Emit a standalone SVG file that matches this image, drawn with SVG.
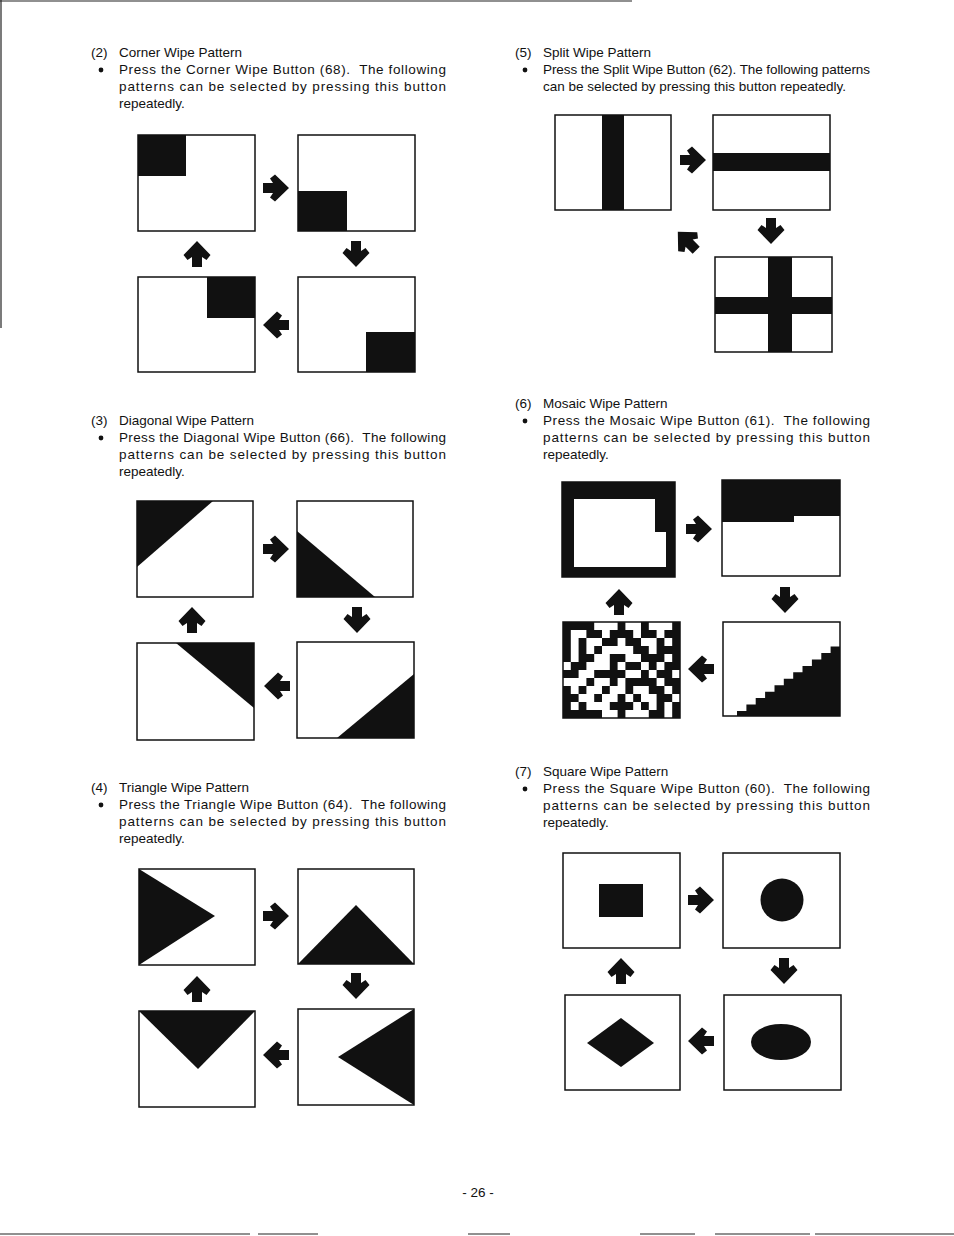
<svg xmlns="http://www.w3.org/2000/svg" width="954" height="1236" viewBox="0 0 954 1236">
<style>
.t{font-family:"Liberation Sans",Arial,Helvetica,sans-serif;font-size:13.5px;fill:#111;white-space:pre}
.fr{fill:none;stroke:#111;stroke-width:1.5}
.blk{fill:#111}
.wht{fill:#fff}
.edge{stroke:#222;stroke-width:1.2}
.bul{fill:#111}
</style>
<defs>
<path id="arr" d="M-13,-5 H-3 L-6,-9.5 L-1,-13.5 L13,0 L-1,13.5 L-6,9.5 L-3,5 H-13 Z" fill="#111"/>
</defs>
<rect width="954" height="1236" fill="#fff"/>
<g id="scan-edges">
<line class="edge" x1="0" y1="1" x2="632" y2="1"/>
<line class="edge" x1="1" y1="0" x2="1" y2="328"/>
<line class="edge" x1="0" y1="1234" x2="250" y2="1234"/>
<line class="edge" x1="258" y1="1234" x2="318" y2="1234"/>
<line class="edge" x1="468" y1="1234" x2="510" y2="1234"/>
<line class="edge" x1="640" y1="1234" x2="695" y2="1234"/>
<line class="edge" x1="715" y1="1234" x2="810" y2="1234"/>
<line class="edge" x1="815" y1="1234" x2="954" y2="1234"/>
</g>

<g id="text-corner">
<text class="t" x="91" y="57">(2)</text>
<text class="t" x="119" y="57">Corner Wipe Pattern</text>
<circle class="bul" cx="101" cy="70" r="2.4"/>
<text class="t" x="119" y="74" textLength="327" lengthAdjust="spacing">Press the Corner Wipe Button (68).&#160; The following</text>
<text class="t" x="119" y="91" textLength="327" lengthAdjust="spacing">patterns can be selected by pressing this button</text>
<text class="t" x="119" y="108">repeatedly.</text>
</g>
<g id="text-diagonal">
<text class="t" x="91" y="425">(3)</text>
<text class="t" x="119" y="425">Diagonal Wipe Pattern</text>
<circle class="bul" cx="101" cy="438" r="2.4"/>
<text class="t" x="119" y="442" textLength="327" lengthAdjust="spacing">Press the Diagonal Wipe Button (66).&#160; The following</text>
<text class="t" x="119" y="459" textLength="327" lengthAdjust="spacing">patterns can be selected by pressing this button</text>
<text class="t" x="119" y="476">repeatedly.</text>
</g>
<g id="text-triangle">
<text class="t" x="91" y="792">(4)</text>
<text class="t" x="119" y="792">Triangle Wipe Pattern</text>
<circle class="bul" cx="101" cy="805" r="2.4"/>
<text class="t" x="119" y="809" textLength="327" lengthAdjust="spacing">Press the Triangle Wipe Button (64).&#160; The following</text>
<text class="t" x="119" y="826" textLength="327" lengthAdjust="spacing">patterns can be selected by pressing this button</text>
<text class="t" x="119" y="843">repeatedly.</text>
</g>
<g id="text-split">
<text class="t" x="515" y="57">(5)</text>
<text class="t" x="543" y="57">Split Wipe Pattern</text>
<circle class="bul" cx="525" cy="70" r="2.4"/>
<text class="t" x="543" y="74" textLength="327" lengthAdjust="spacing">Press the Split Wipe Button (62). The following patterns</text>
<text class="t" x="543" y="91">can be selected by pressing this button repeatedly.</text>
</g>
<g id="text-mosaic">
<text class="t" x="515" y="408">(6)</text>
<text class="t" x="543" y="408">Mosaic Wipe Pattern</text>
<circle class="bul" cx="525" cy="421" r="2.4"/>
<text class="t" x="543" y="425" textLength="327" lengthAdjust="spacing">Press the Mosaic Wipe Button (61).&#160; The following</text>
<text class="t" x="543" y="442" textLength="327" lengthAdjust="spacing">patterns can be selected by pressing this button</text>
<text class="t" x="543" y="459">repeatedly.</text>
</g>
<g id="text-square">
<text class="t" x="515" y="776">(7)</text>
<text class="t" x="543" y="776">Square Wipe Pattern</text>
<circle class="bul" cx="525" cy="789" r="2.4"/>
<text class="t" x="543" y="793" textLength="327" lengthAdjust="spacing">Press the Square Wipe Button (60).&#160; The following</text>
<text class="t" x="543" y="810" textLength="327" lengthAdjust="spacing">patterns can be selected by pressing this button</text>
<text class="t" x="543" y="827">repeatedly.</text>
</g>
<g id="page-number">
<text class="t" x="478" y="1197" text-anchor="middle">- 26 -</text>
</g>

<!-- Corner -->
<g id="corner-1"><rect class="blk" x="138" y="135" width="48" height="41"/><rect class="fr" x="138" y="135" width="117" height="96"/></g>
<g id="corner-2"><rect class="blk" x="298" y="191" width="49" height="40"/><rect class="fr" x="298" y="135" width="117" height="96"/></g>
<g id="corner-3"><rect class="blk" x="366" y="332" width="49" height="40"/><rect class="fr" x="298" y="277" width="117" height="95"/></g>
<g id="corner-4"><rect class="blk" x="207" y="277" width="48" height="41"/><rect class="fr" x="138" y="277" width="117" height="95"/></g>

<!-- Diagonal -->
<g id="diagonal-1"><polygon class="blk" points="137,501 213,501 137,567"/><rect class="fr" x="137" y="501" width="116" height="96"/></g>
<g id="diagonal-2"><polygon class="blk" points="297,531 297,597 375,597"/><rect class="fr" x="297" y="501" width="116" height="96"/></g>
<g id="diagonal-3"><polygon class="blk" points="337,738 414,738 414,674"/><rect class="fr" x="297" y="642" width="117" height="96"/></g>
<g id="diagonal-4"><polygon class="blk" points="176,643 254,643 254,708"/><rect class="fr" x="137" y="643" width="117" height="97"/></g>

<!-- Triangle -->
<g id="triangle-1"><polygon class="blk" points="139,869 139,965 215,916"/><rect class="fr" x="139" y="869" width="116" height="96"/></g>
<g id="triangle-2"><polygon class="blk" points="298,964 414,964 356,905"/><rect class="fr" x="298" y="869" width="116" height="95"/></g>
<g id="triangle-3"><polygon class="blk" points="414,1009 414,1105 338,1057"/><rect class="fr" x="298" y="1009" width="116" height="96"/></g>
<g id="triangle-4"><polygon class="blk" points="139,1011 255,1011 198,1069"/><rect class="fr" x="139" y="1011" width="116" height="96"/></g>

<!-- Split -->
<g id="split-1"><rect class="blk" x="602" y="115" width="22" height="95"/><rect class="fr" x="555" y="115" width="116" height="95"/></g>
<g id="split-2"><rect class="blk" x="713" y="153" width="117" height="18"/><rect class="fr" x="713" y="115" width="117" height="95"/></g>
<g id="split-3"><rect class="blk" x="768" y="257" width="24" height="95"/><rect class="blk" x="715" y="297" width="117" height="17"/><rect class="fr" x="715" y="257" width="117" height="95"/></g>

<!-- Mosaic -->
<g id="mosaic-1"><rect class="blk" x="562" y="482" width="113" height="95"/><polygon class="wht" points="574,499 655,499 655,532 666,532 666,567 574,567"/><rect class="fr" x="562" y="482" width="113" height="95"/></g>
<g id="mosaic-2"><path class="blk" d="M722,480 H840 V516 H794 V522 H722 Z"/><rect class="fr" x="722" y="480" width="118" height="96"/></g>
<g id="mosaic-3"><path class="blk" d="M737,716 V711 H746.4 V704.6 H755.7 V698.1 H765.1 V691.7 H774.5 V685.2 H783.8 V678.8 H793.2 V672.3 H802.5 V665.9 H811.9 V659.4 H821.3 V653 H830.6 V646.5 H840 V716 Z"/><rect class="fr" x="723" y="622" width="117" height="94"/></g>
<g id="mosaic-4"><path class="blk" d="M563,622h31.2v8h-31.2z M617.6,622h7.8v8h-7.8z M641,622h7.8v8h-7.8z M672.2,622h7.8v8h-7.8z
M563,630h7.8v8h-7.8z M586.4,630h15.6v8h-15.6z M609.8,630h23.4v8h-23.4z M641,630h15.6v8h-15.6z M664.4,630h15.6v8h-15.6z
M563,638h7.8v8h-7.8z M578.6,638h7.8v8h-7.8z M602,638h15.6v8h-15.6z M625.4,638h15.6v8h-15.6z M656.6,638h7.8v8h-7.8z M672.2,638h7.8v8h-7.8z
M563,646h7.8v8h-7.8z M578.6,646h7.8v8h-7.8z M594.2,646h7.8v8h-7.8z M633.2,646h15.6v8h-15.6z M656.6,646h23.4v8h-23.4z
M563,654h7.8v8h-7.8z M578.6,654h15.6v8h-15.6z M609.8,654h15.6v8h-15.6z M641,654h23.4v8h-23.4z M672.2,654h7.8v8h-7.8z
M570.8,662h15.6v8h-15.6z M609.8,662h7.8v8h-7.8z M625.4,662h15.6v8h-15.6z M648.8,662h7.8v8h-7.8z M664.4,662h15.6v8h-15.6z
M563,670h15.6v8h-15.6z M594.2,670h31.2v8h-31.2z M641,670h7.8v8h-7.8z M656.6,670h15.6v8h-15.6z
M586.4,678h7.8v8h-7.8z M609.8,678h7.8v8h-7.8z M625.4,678h31.2v8h-31.2z M664.4,678h15.6v8h-15.6z
M563,686h7.8v8h-7.8z M578.6,686h7.8v8h-7.8z M602,686h7.8v8h-7.8z M625.4,686h7.8v8h-7.8z M648.8,686h15.6v8h-15.6z M672.2,686h7.8v8h-7.8z
M563,694h15.6v8h-15.6z M594.2,694h7.8v8h-7.8z M617.6,694h7.8v8h-7.8z M633.2,694h7.8v8h-7.8z M656.6,694h15.6v8h-15.6z
M563,702h7.8v8h-7.8z M578.6,702h7.8v8h-7.8z M609.8,702h23.4v8h-23.4z M641,702h7.8v8h-7.8z M656.6,702h7.8v8h-7.8z M672.2,702h7.8v8h-7.8z
M563,710h39v8h-39z M617.6,710h7.8v8h-7.8z M648.8,710h15.6v8h-15.6z M672.2,710h7.8v8h-7.8z"/><rect class="fr" x="563" y="622" width="117" height="96"/></g>

<!-- Square -->
<g id="square-1"><rect class="blk" x="599" y="884" width="44" height="33"/><rect class="fr" x="563" y="853" width="117" height="95"/></g>
<g id="square-2"><circle class="blk" cx="782" cy="900" r="21.5"/><rect class="fr" x="723" y="853" width="117" height="95"/></g>
<g id="square-3"><ellipse class="blk" cx="781" cy="1042" rx="30" ry="18"/><rect class="fr" x="724" y="995" width="117" height="95"/></g>
<g id="square-4"><polygon class="blk" points="587,1043 621,1018 654,1043 621,1067"/><rect class="fr" x="565" y="995" width="115" height="95"/></g>

<g id="connectors">
<use href="#arr" transform="translate(276,188)"/>
<use href="#arr" transform="translate(356,254) rotate(90)"/>
<use href="#arr" transform="translate(276,325) rotate(180)"/>
<use href="#arr" transform="translate(197,254) rotate(-90)"/>

<use href="#arr" transform="translate(276,549)"/>
<use href="#arr" transform="translate(357,620) rotate(90)"/>
<use href="#arr" transform="translate(277,686) rotate(180)"/>
<use href="#arr" transform="translate(192,620) rotate(-90)"/>

<use href="#arr" transform="translate(276,916)"/>
<use href="#arr" transform="translate(356,986) rotate(90)"/>
<use href="#arr" transform="translate(276,1055) rotate(180)"/>
<use href="#arr" transform="translate(197,989) rotate(-90)"/>

<use href="#arr" transform="translate(693,160)"/>
<use href="#arr" transform="translate(771,231) rotate(90)"/>
<use href="#arr" transform="translate(687,241) rotate(-135)"/>

<use href="#arr" transform="translate(699,529)"/>
<use href="#arr" transform="translate(785,600) rotate(90)"/>
<use href="#arr" transform="translate(701,669) rotate(180)"/>
<use href="#arr" transform="translate(619,602) rotate(-90)"/>

<use href="#arr" transform="translate(701,900)"/>
<use href="#arr" transform="translate(784,971) rotate(90)"/>
<use href="#arr" transform="translate(701,1041) rotate(180)"/>
<use href="#arr" transform="translate(621,971) rotate(-90)"/>
</g>
</svg>
